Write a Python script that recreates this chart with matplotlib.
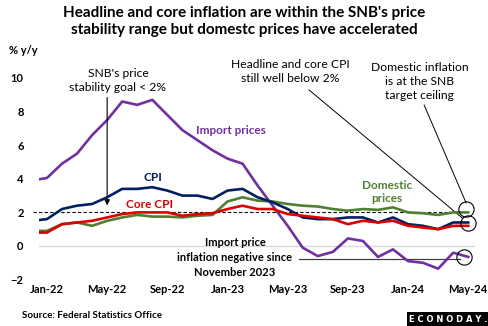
import matplotlib
matplotlib.use("Agg")
import matplotlib.pyplot as plt
from matplotlib.patches import Rectangle

plt.rcParams['font.family'] = ['Lato', 'DejaVu Sans']

# Monthly data, Dec-21 .. May-24 (index -1 = Dec-21, 0 = Jan-22)
months = list(range(-1, 29))
cpi = [1.5, 1.6, 2.2, 2.4, 2.5, 2.9, 3.4, 3.4, 3.5, 3.3, 3.0, 3.0, 2.8, 3.3, 3.4,
       2.9, 2.6, 2.2, 1.7, 1.6, 1.6, 1.7, 1.7, 1.4, 1.7, 1.3, 1.2, 1.0, 1.4, 1.4]
core_cpi = [0.8, 0.8, 1.3, 1.4, 1.5, 1.7, 1.9, 2.0, 2.0, 2.0, 1.8, 1.9, 1.95, 2.2, 2.4,
            2.2, 2.2, 1.9, 1.8, 1.7, 1.6, 1.3, 1.5, 1.4, 1.5, 1.2, 1.1, 1.0, 1.2, 1.2]
domestic = [0.9, 0.9, 1.3, 1.4, 1.2, 1.5, 1.7, 1.85, 1.75, 1.75, 1.7, 1.8, 1.85, 2.65, 2.9,
            2.7, 2.65, 2.5, 2.4, 2.35, 2.2, 2.1, 2.2, 2.15, 2.3, 2.0, 1.95, 1.85, 2.0, 2.0]
import_prices = [3.9, 4.05, 4.9, 5.5, 6.6, 7.5, 8.6, 8.4, 8.7, 7.8, 6.9, 6.3, 5.7, 5.2, 4.9,
                 3.6, 2.4, 1.2, -0.1, -0.6, -0.35, 0.45, 0.3, -0.65, -0.2, -0.9, -1.0, -1.35, -0.4, -0.65]

tick_pos = [0, 4, 8, 12, 16, 20, 24, 28]
tick_labels = ["Jan-22", "May-22", "Sep-22", "Jan-23", "May-23", "Sep-23", "Jan-24", "May-24"]

purple = "#7030A0"
navy = "#002060"
red = "#DD0000"
green = "#507E32"

fig = plt.figure(figsize=(4.89, 3.26), dpi=100)
ax = fig.add_axes([39 / 489, 1 - 279.6 / 326, (475 - 39) / 489, (279.6 - 78) / 326])

ax.axhline(0, color="#D9D9D9", lw=1, zorder=1)
ax.plot([-0.9, 28], [2, 2], color="black", lw=0.8, ls=(0, (3, 2)), zorder=2, clip_on=False)

ax.plot(months, import_prices, color=purple, lw=1.9, zorder=3)
ax.plot(months, domestic, color=green, lw=1.9, zorder=4)
ax.plot(months, cpi, color=navy, lw=1.9, zorder=5)
ax.plot(months, core_cpi, color=red, lw=1.9, zorder=6)

ax.set_xlim(-0.53, 28.45)
ax.set_ylim(-2, 10)
ax.set_yticks([-2, 0, 2, 4, 6, 8, 10])
ax.set_xticks(tick_pos)
ax.set_xticklabels(tick_labels)
for s in ax.spines.values():
    s.set_visible(False)
ax.tick_params(length=0, labelsize=8)
ax.tick_params(axis="y", pad=11)
ax.tick_params(axis="x", pad=3)
for lab in ax.get_xticklabels() + ax.get_yticklabels():
    lab.set_fontweight("bold")

# series labels
ax.text(12.24, 6.9, "Import prices", color=purple, fontsize=8.5, fontweight="bold", ha="center", va="center")
ax.text(7.05, 4.1, "CPI", color=navy, fontsize=8.5, fontweight="bold", ha="center", va="center")
ax.text(6.85, 2.5, "Core CPI", color=red, fontsize=8.5, fontweight="bold", ha="center", va="center")
ax.text(22.58, 3.21, "Domestic\nprices", color=green, fontsize=8.5, fontweight="bold",
        ha="center", va="center", linespacing=1.3)

# annotations
ax.annotate("", xy=(4, 2.25), xytext=(4, 9.0),
            arrowprops=dict(arrowstyle="-|>", color="black", lw=0.8, mutation_scale=8))
ax.text(4.72, 9.85, "SNB's price\nstability goal < 2%", fontsize=8.7, ha="center", va="center",
        linespacing=1.3)
ax.text(16.16, 10.4, "Headline and core CPI\nstill well below 2%", fontsize=8.7, ha="center",
        va="center", linespacing=1.3)
ax.text(24.75, 9.78, "Domestic inflation\nis at the SNB\ntarget ceiling", fontsize=8.7,
        ha="center", va="center", linespacing=1.3)
ax.text(12.5, -0.71, "Import price\ninflation negative since\nNovember 2023", fontsize=8,
        fontweight="bold", ha="center", va="center", linespacing=1.45)

ax.plot([17.42, 27.6], [9.29, 1.67], color="black", lw=0.7, clip_on=False)
ax.plot([25.07, 27.86], [8.39, 2.56], color="black", lw=0.7, clip_on=False)
ax.plot([16.76, 27.46], [-0.79, -0.79], color="#404040", lw=0.9, clip_on=False)

circ_x = [27.86, 27.97, 27.73]
circ_y = [2.18, 1.35, -0.67]
ax.plot(circ_x, circ_y, "o", mfc="none", mec="black", ms=11, mew=0.8, zorder=7, clip_on=False)

# figure texts
fig.text(0.5, 1 - 21.5 / 326,
         "Headline and core inflation are within the SNB's price\nstability range but domestc prices have accelerated",
         ha="center", va="center", fontsize=11, fontweight="bold", linespacing=1.25)
fig.text(9 / 489, 1 - 50 / 326, "% y/y", fontsize=8, fontweight="bold", va="center")
fig.text(22 / 489, 1 - 315.7 / 326, "Source: Federal Statistics Office", fontsize=7,
         fontweight="bold", va="center")

fig.patches.append(Rectangle((407 / 489, 0), 82 / 489, 14.5 / 326, transform=fig.transFigure,
                             facecolor="black", edgecolor="none"))
fig.text(448 / 489, 1 - 319 / 326, "E C O N O D A Y .", color="white", fontsize=6,
         fontweight="bold", ha="center", va="center", family="DejaVu Sans")

fig.savefig("out.png", dpi=100)
